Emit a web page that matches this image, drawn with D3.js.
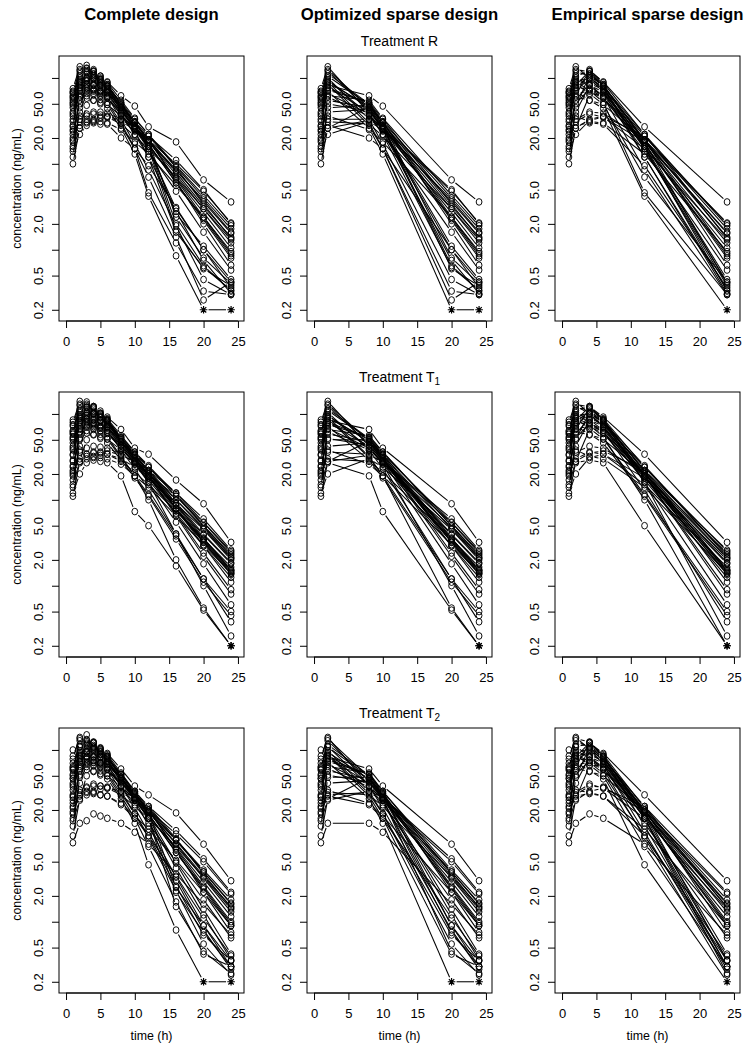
<!DOCTYPE html>
<html><head><meta charset="utf-8">
<script src="https://cdn.jsdelivr.net/npm/d3@7"></script>
<style>body{margin:0;background:#fff} text{font-family:"Liberation Sans",Arial,Helvetica,sans-serif;fill:#000}</style>
</head><body><svg id="c" width="750" height="1050"></svg>
<script>
// sampling times (h) of the complete design
const times = [1,2,3,4,5,6,8,10,12,16,20,24];
const designNames = ["Complete design","Optimized sparse design","Empirical sparse design"];
const designOptimized = [1,2,8,10,20,24];
const designEmpirical = [1,2,4,6,12,24];
const treatmentNames = ["R","T1","T2"];
const LLOQ = 0.2; // BLQ values (null) are drawn at LLOQ with an asterisk
const yTicks = [0.2,0.5,1,2,5,10,20,50,100];
const yTickLabels = ["0.2","0.5","","2.0","5.0","","20.0","50.0",""];
const xTicks = [0,5,10,15,20,25];

// concentrations (ng/mL), one row per subject, columns = times
const concR = [
[12,45,85,110,95,80,48,30,19,8.0,3.2,1.4],
[18,62,100,125,105,88,55,34,22,9.5,4.3,1.9],
[55,120,130,105,86,72,42,25,15,3.0,1.0,0.42],
[66,95,92,82,70,60,37,22,14,4.8,1.6,0.58],
[25,31,36,38,37,35,29,21,15,7.0,3.0,1.3],
[31,36,33,31,31,30,25,18,13,5.6,2.4,0.95],
[75,135,118,100,83,68,39,22,12,1.6,0.62,0.34],
[48,88,98,92,82,74,47,31,21,9.2,4.0,1.75],
[14,22,28,32,34,35,31,25,18,8.3,3.8,1.6],
[20,55,76,86,81,73,45,28,17,6.0,2.2,0.8],
[36,72,92,97,90,80,52,33,22,9.0,3.4,1.35],
[60,112,122,112,96,83,50,30,18,2.4,0.8,0.4],
[22,28,31,30,29,29,20,15,9.5,3.1,1.0,0.36],
[16,40,66,82,77,69,43,26,16,2.6,1.1,0.45],
[50,66,72,70,63,58,38,25,16,6.8,2.7,1.05],
[28,76,102,106,93,81,51,31,19,6.3,2.0,0.66],
[70,100,95,84,72,61,33,17,8.5,1.9,0.45,0.30],
[38,105,128,120,100,84,49,28,16,2.0,0.65,0.33],
[19,33,38,40,40,39,33,26,19,8.5,3.6,1.55],
[45,78,80,74,66,59,40,27,18,7.5,3.0,1.2],
[10,26,48,63,68,66,46,30,19,6.6,2.4,0.9],
[58,90,84,72,61,52,30,15,4.6,1.2,0.33,0.3],
[24,50,70,75,70,63,41,27,17,6.0,2.3,0.85],
[62,85,76,66,56,49,28,15,7.0,1.4,0.26,0.42],
[33,92,110,100,88,76,45,27,15,1.7,0.6,0.38],
[15,26,30,33,35,36,32,27,21,11,5.0,2.0],
[40,60,58,55,52,49,36,26,19,10,4.8,2.05],
[27,82,115,120,105,90,62,47,27,18,6.5,3.6],
[68,125,140,118,97,80,45,24,12,2.8,0.75,0.31],
[52,70,62,55,50,44,26,13,4.2,0.85,null,null]
];
const concT1 = [
[14,50,88,105,92,80,50,33,22,10,4.6,2.1],
[20,66,105,118,102,88,56,36,24,11,5.0,2.3],
[58,125,120,100,84,72,44,28,18,7.5,3.2,1.4],
[85,98,90,80,70,61,40,26,17,7.0,2.9,1.25],
[24,30,34,36,35,34,28,21,15,7.4,3.5,1.65],
[33,38,34,32,31,30,26,19,14,6.5,3.0,1.4],
[80,140,120,100,84,70,42,26,16,4.0,1.0,0.26],
[50,90,100,94,84,76,50,34,24,12,5.5,2.5],
[12,20,27,31,33,34,30,24,18,9.0,4.5,2.0],
[22,58,80,90,84,75,48,31,20,8.0,3.3,1.45],
[38,75,95,100,92,82,54,36,25,11.5,5.0,2.2],
[62,115,125,114,98,85,52,33,21,8.0,2.9,1.1],
[21,27,30,29,28,27,19,7.3,5.0,1.7,0.52,null],
[17,42,70,85,80,72,46,30,19,7.8,3.2,1.35],
[52,68,74,71,64,59,40,27,18,8.6,3.9,1.8],
[29,80,105,108,95,83,53,34,22,9.0,3.6,1.5],
[72,104,96,86,74,64,38,23,13,4.0,1.2,0.38],
[40,110,130,122,102,86,51,31,19,6.8,2.4,0.9],
[19,36,40,42,41,40,34,27,20,10,4.8,2.1],
[46,80,82,76,68,61,42,29,20,9.2,4.0,1.85],
[11,28,50,66,70,68,48,32,21,8.5,3.5,1.55],
[60,92,86,74,63,54,32,19,10,2.0,0.55,null],
[25,52,72,78,72,65,43,29,19,8.0,3.4,1.5],
[64,88,78,68,58,51,31,19,11.5,3.8,1.2,0.5],
[34,95,112,102,90,78,47,30,19,6.5,2.2,0.8],
[15,28,32,35,36,37,33,28,22,12,6.0,2.6],
[42,62,60,57,54,51,38,28,20,11,5.4,2.4],
[28,84,118,122,108,92,66,40,34,17,9.0,3.2],
[75,130,138,120,100,84,48,28,16,5.5,1.8,0.6],
[54,72,64,58,52,46,29,18,11,3.5,1.1,0.45]
];
const concT2 = [
[13,48,84,108,94,80,48,30,19,8.2,3.4,1.5],
[19,64,102,122,104,88,54,33,21,9.0,4.0,1.8],
[60,128,132,108,88,73,43,26,16,2.2,0.75,0.3],
[100,110,96,84,72,62,38,23,14,5.0,1.8,0.65],
[26,32,37,40,38,36,30,22,16,7.5,3.3,1.4],
[29,34,33,32,30,29,24,17,12,5.2,2.2,0.9],
[78,140,120,102,84,68,38,21,11,3.0,0.8,0.28],
[46,86,96,92,82,74,46,30,20,8.8,3.8,1.65],
[8.3,14,15,18,17,16,14,11,8.0,3.6,1.6,0.7],
[21,57,78,88,82,74,46,29,18,6.4,2.4,0.9],
[37,74,94,98,90,80,52,33,22,9.3,3.6,1.45],
[62,115,125,113,97,84,51,31,19,2.5,0.9,0.35],
[22,29,32,31,30,29,23,16,10,3.4,1.1,0.4],
[16,41,68,83,78,70,44,27,16,1.5,0.45,0.25],
[52,68,73,71,64,59,39,26,17,7.2,2.9,1.15],
[30,78,104,108,95,82,52,32,20,6.8,2.2,0.75],
[70,98,92,82,70,60,33,18,9.5,2.3,0.55,0.24],
[39,108,130,120,100,85,49,29,17,4.8,1.4,0.42],
[18,30,36,38,38,37,32,26,19,9.0,3.8,1.6],
[47,80,82,75,67,60,41,28,19,8.0,3.2,1.3],
[10,27,50,65,70,67,47,31,20,7.0,2.6,1.0],
[58,90,84,72,62,53,31,18,10,2.6,0.7,0.35],
[24,51,71,76,71,64,42,28,18,6.4,2.5,0.95],
[64,87,78,67,57,50,29,16,7.5,1.7,0.42,0.3],
[34,94,112,102,89,77,46,28,16,4.2,1.2,0.36],
[15,26,30,33,35,36,33,28,22,11.5,5.4,2.2],
[41,61,59,56,53,50,37,27,20,10.5,5.0,2.1],
[28,83,116,121,106,91,60,38,30,18.5,8.0,3.0],
[85,135,150,124,102,84,48,26,13,3.3,0.9,0.3],
[50,72,64,57,51,46,27,14,4.6,0.8,null,null]
];

const dataByTreatment = [concR, concT1, concT2];
const designTimes = [times, designOptimized, designEmpirical];

const svg = d3.select("#c");
svg.append("rect").attr("width",750).attr("height",1050).attr("fill","#fff");

const colX = [59, 307, 555], boxW = 185;
const rowY = [56, 392, 728], boxH = 265;
const GAP = 5, RX = 2.9, RY = 3.3;

// column titles
designNames.forEach((n,c)=>{
  svg.append("text").attr("x", colX[c]+boxW/2).attr("y", 20)
    .attr("text-anchor","middle").style("font-size","16.7px").style("font-weight","bold").text(n);
});

treatmentNames.forEach((tn, r)=>{
  // treatment label
  const tl = svg.append("text").attr("x", colX[1]+boxW/2).attr("y", rowY[r]-10)
    .attr("text-anchor","middle").style("font-size","14px");
  tl.append("tspan").text("Treatment " + tn[0]);
  if (tn.length>1) tl.append("tspan").attr("dy", 3).style("font-size","10px").text(tn.slice(1));

  // y axis title
  svg.append("text").attr("transform",`translate(20.5,${rowY[r]+boxH/2}) rotate(-90)`)
    .attr("text-anchor","middle").style("font-size","12.4px").text("concentration (ng/mL)");

  for (let c=0;c<3;c++){
    const x = d3.scaleLinear().domain([-1.023, 25.88]).range([colX[c], colX[c]+boxW]);
    const y = d3.scaleLog().domain([0.148, 180]).range([rowY[r]+boxH, rowY[r]]);
    const g = svg.append("g");
    const tsel = designTimes[c];
    dataByTreatment[r].forEach(subj=>{
      const pts = tsel.map(t=>{
        const v = subj[times.indexOf(t)];
        return {blq: v===null, px: x(t), py: y(v===null?LLOQ:v)};
      });
      for (let i=0;i<pts.length-1;i++){
        const a=pts[i], b=pts[i+1];
        const dx=b.px-a.px, dy=b.py-a.py, L=Math.hypot(dx,dy);
        if (L>2*GAP){
          const ux=dx/L, uy=dy/L;
          g.append("line").attr("x1",a.px+ux*GAP).attr("y1",a.py+uy*GAP)
            .attr("x2",b.px-ux*GAP).attr("y2",b.py-uy*GAP)
            .attr("stroke","#000").attr("stroke-width",1.05);
        }
      }
      pts.forEach(p=>{
        if (p.blq){
          const s=3.8, d=s*0.7071;
          g.append("path").attr("d",`M${p.px-s},${p.py}H${p.px+s}M${p.px},${p.py-s}V${p.py+s}M${p.px-d},${p.py-d}L${p.px+d},${p.py+d}M${p.px-d},${p.py+d}L${p.px+d},${p.py-d}`)
            .attr("stroke","#000").attr("stroke-width",1.2).attr("fill","none");
        } else {
          g.append("ellipse").attr("cx",p.px).attr("cy",p.py).attr("rx",RX).attr("ry",RY)
            .attr("fill","none").attr("stroke","#000").attr("stroke-width",0.95);
        }
      });
    });
    // box
    svg.append("rect").attr("x",colX[c]).attr("y",rowY[r]).attr("width",boxW).attr("height",boxH)
      .attr("fill","none").attr("stroke","#000").attr("stroke-width",1);
    // y axis
    const ya = svg.append("g").attr("transform",`translate(${colX[c]},0)`)
      .call(d3.axisLeft(y).tickValues(yTicks).tickFormat((d,i)=>yTickLabels[i]).tickSize(7));
    ya.select(".domain").remove();
    ya.selectAll("line").attr("stroke","#000");
    ya.selectAll("text").attr("x",0).attr("dy",null).attr("y",-16)
      .attr("text-anchor","middle").attr("transform","rotate(-90)")
      .style("font-size","13px").style("font-family",null).attr("fill","#000");
    // x axis
    const xa = svg.append("g").attr("transform",`translate(0,${rowY[r]+boxH})`)
      .call(d3.axisBottom(x).tickValues(xTicks).tickSize(7));
    xa.select(".domain").attr("d",`M${x(0)},0H${x(25)}`).attr("stroke","#000");
    xa.selectAll("line").attr("stroke","#000");
    xa.selectAll("text").attr("y",25).attr("dy",null)
      .style("font-size","13px").style("font-family",null).attr("fill","#000");
    if (r===2){
      svg.append("text").attr("x",colX[c]+boxW/2).attr("y",rowY[r]+boxH+47)
        .attr("text-anchor","middle").style("font-size","12.4px").text("time (h)");
    }
  }
});
</script></body></html>
